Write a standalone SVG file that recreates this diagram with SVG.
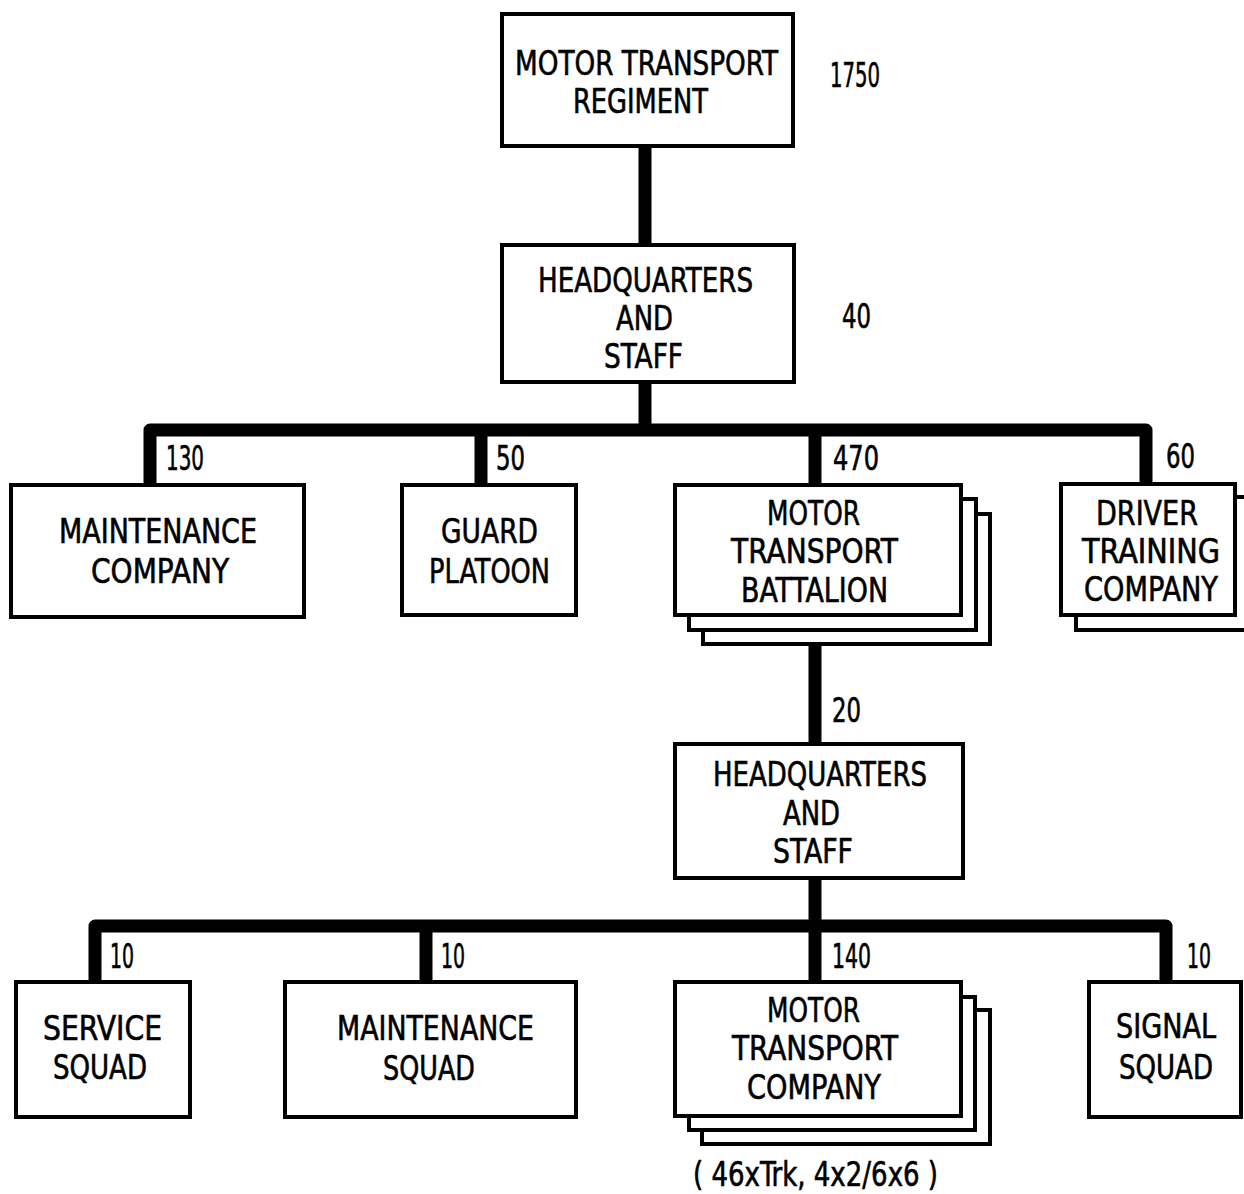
<svg xmlns="http://www.w3.org/2000/svg" width="1244" height="1194" viewBox="0 0 1244 1194">
<defs>
<style>
.box{fill:#fff;stroke:#000;stroke-width:4}
.conn{fill:none;stroke:#000;stroke-width:13;stroke-linejoin:round}
text{font-family:"DejaVu Sans Condensed","Liberation Sans Narrow","Liberation Sans",sans-serif;font-size:33px;fill:#000;stroke:#000;stroke-width:0.6}
</style>
</defs>
<rect width="1244" height="1194" fill="#fff"/>
<g id="connectors">
<path class="conn" d="M645,148 V243"/>
<path class="conn" d="M645,384 V430"/>
<path class="conn" d="M150,483 V430 H1146 V483"/>
<path class="conn" d="M481,430 V483"/>
<path class="conn" d="M815,430 V483"/>
<path class="conn" d="M815,646 V742"/>
<path class="conn" d="M815,880 V926"/>
<path class="conn" d="M95,980 V926 H1166 V980"/>
<path class="conn" d="M426,926 V980"/>
<path class="conn" d="M815,926 V980"/>
</g>
<g id="regiment">
<rect class="box" x="502" y="14" width="291" height="132"/>
<text x="515" y="75" textLength="263" lengthAdjust="spacingAndGlyphs">MOTOR TRANSPORT</text>
<text x="573" y="113" textLength="135" lengthAdjust="spacingAndGlyphs">REGIMENT</text>
<text x="830" y="87" textLength="50" lengthAdjust="spacingAndGlyphs">1750</text>
</g>
<g id="hq1">
<rect class="box" x="502" y="245" width="292" height="137"/>
<text x="538" y="292" textLength="215" lengthAdjust="spacingAndGlyphs">HEADQUARTERS</text>
<text x="616" y="330" textLength="57" lengthAdjust="spacingAndGlyphs">AND</text>
<text x="604" y="368" textLength="79" lengthAdjust="spacingAndGlyphs">STAFF</text>
<text x="842" y="328" textLength="29" lengthAdjust="spacingAndGlyphs">40</text>
</g>
<g id="maint-co">
<rect class="box" x="11" y="485" width="293" height="132"/>
<text x="59" y="543" textLength="198" lengthAdjust="spacingAndGlyphs">MAINTENANCE</text>
<text x="91" y="583" textLength="138" lengthAdjust="spacingAndGlyphs">COMPANY</text>
<text x="166" y="470" textLength="38" lengthAdjust="spacingAndGlyphs">130</text>
</g>
<g id="guard">
<rect class="box" x="402" y="485" width="174" height="130"/>
<text x="441" y="543" textLength="97" lengthAdjust="spacingAndGlyphs">GUARD</text>
<text x="429" y="583" textLength="121" lengthAdjust="spacingAndGlyphs">PLATOON</text>
<text x="496" y="470" textLength="29" lengthAdjust="spacingAndGlyphs">50</text>
</g>
<g id="mt-battalion">
<rect class="box" x="703" y="514" width="287" height="130"/>
<rect class="box" x="689" y="499" width="287" height="131"/>
<rect class="box" x="675" y="485" width="286" height="130"/>
<text x="767" y="525" textLength="93" lengthAdjust="spacingAndGlyphs">MOTOR</text>
<text x="731" y="563" textLength="167" lengthAdjust="spacingAndGlyphs">TRANSPORT</text>
<text x="741" y="602" textLength="147" lengthAdjust="spacingAndGlyphs">BATTALION</text>
<text x="833" y="470" textLength="46" lengthAdjust="spacingAndGlyphs">470</text>
</g>
<g id="driver">
<rect class="box" x="1076" y="497" width="180" height="133"/>
<rect class="box" x="1061" y="484" width="174" height="131"/>
<text x="1096" y="525" textLength="102" lengthAdjust="spacingAndGlyphs">DRIVER</text>
<text x="1082" y="563" textLength="138" lengthAdjust="spacingAndGlyphs">TRAINING</text>
<text x="1084" y="601" textLength="134" lengthAdjust="spacingAndGlyphs">COMPANY</text>
<text x="1166" y="468" textLength="29" lengthAdjust="spacingAndGlyphs">60</text>
</g>
<g id="hq2">
<rect class="box" x="675" y="744" width="288" height="134"/>
<text x="713" y="786" textLength="214" lengthAdjust="spacingAndGlyphs">HEADQUARTERS</text>
<text x="783" y="825" textLength="57" lengthAdjust="spacingAndGlyphs">AND</text>
<text x="773" y="863" textLength="80" lengthAdjust="spacingAndGlyphs">STAFF</text>
<text x="832" y="722" textLength="29" lengthAdjust="spacingAndGlyphs">20</text>
</g>
<g id="service">
<rect class="box" x="16" y="982" width="174" height="135"/>
<text x="43" y="1040" textLength="119" lengthAdjust="spacingAndGlyphs">SERVICE</text>
<text x="53" y="1079" textLength="94" lengthAdjust="spacingAndGlyphs">SQUAD</text>
<text x="110" y="968" textLength="24" lengthAdjust="spacingAndGlyphs">10</text>
</g>
<g id="maint-squad">
<rect class="box" x="285" y="982" width="291" height="135"/>
<text x="337" y="1040" textLength="197" lengthAdjust="spacingAndGlyphs">MAINTENANCE</text>
<text x="383" y="1080" textLength="92" lengthAdjust="spacingAndGlyphs">SQUAD</text>
<text x="441" y="968" textLength="24" lengthAdjust="spacingAndGlyphs">10</text>
</g>
<g id="mt-company">
<rect class="box" x="702" y="1010" width="288" height="134"/>
<rect class="box" x="689" y="997" width="286" height="133"/>
<rect class="box" x="675" y="982" width="286" height="134"/>
<text x="767" y="1022" textLength="93" lengthAdjust="spacingAndGlyphs">MOTOR</text>
<text x="732" y="1060" textLength="166" lengthAdjust="spacingAndGlyphs">TRANSPORT</text>
<text x="747" y="1099" textLength="134" lengthAdjust="spacingAndGlyphs">COMPANY</text>
<text x="832" y="968" textLength="39" lengthAdjust="spacingAndGlyphs">140</text>
<text x="693" y="1186" textLength="245" lengthAdjust="spacingAndGlyphs">( 46xTrk, 4x2/6x6 )</text>
</g>
<g id="signal">
<rect class="box" x="1089" y="982" width="152" height="135"/>
<text x="1116" y="1038" textLength="100" lengthAdjust="spacingAndGlyphs">SIGNAL</text>
<text x="1119" y="1079" textLength="94" lengthAdjust="spacingAndGlyphs">SQUAD</text>
<text x="1187" y="968" textLength="24" lengthAdjust="spacingAndGlyphs">10</text>
</g>
</svg>
